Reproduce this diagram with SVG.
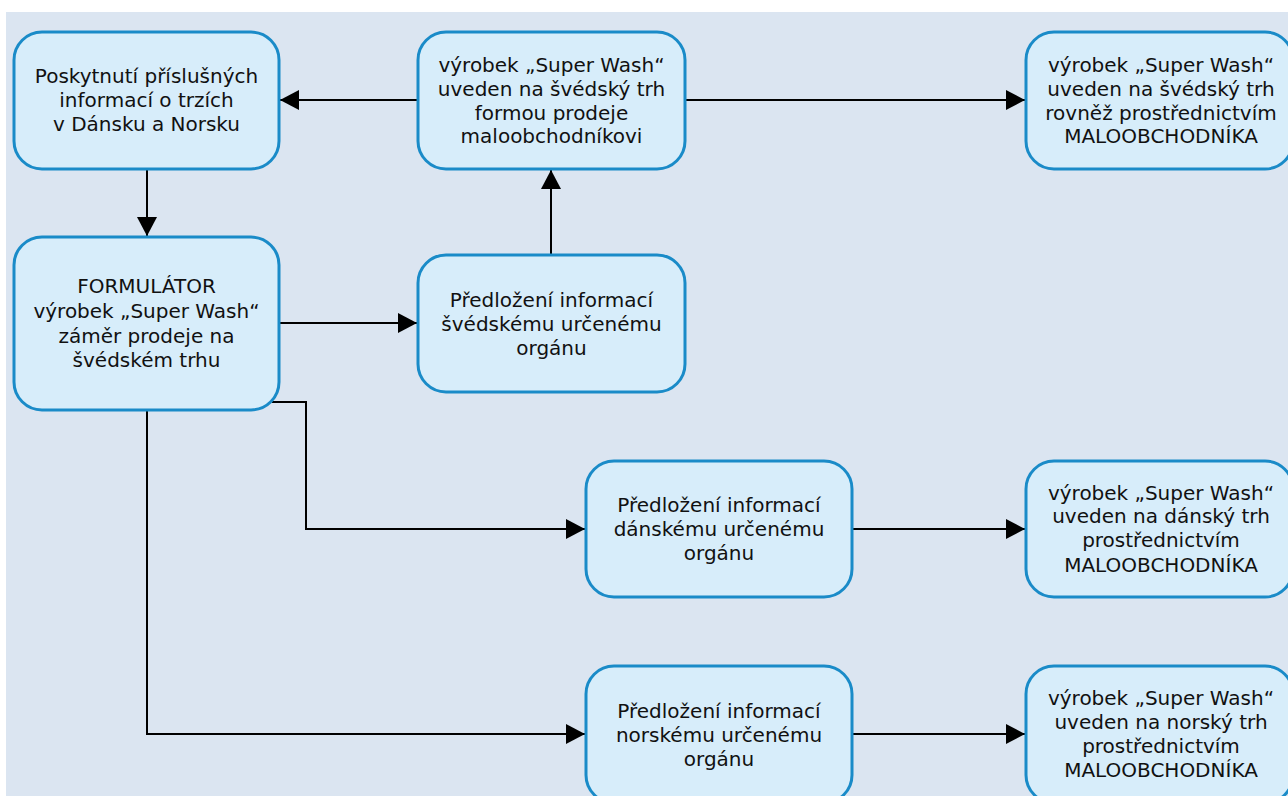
<svg xmlns="http://www.w3.org/2000/svg" width="1288" height="796" viewBox="0 0 1288 796">
  <style>
    .box { fill: #d7edfa; stroke: #1a8bc8; stroke-width: 3; }
    .lbl { font-family: "DejaVu Sans", Verdana, sans-serif; font-size: 20px; fill: #111; text-anchor: middle; }
    .wire { fill: none; stroke: #000; stroke-width: 2; }
  </style>
  <defs>
    <marker id="arrow" markerUnits="userSpaceOnUse" markerWidth="20" markerHeight="20" refX="19" refY="10" orient="auto">
      <path d="M0,0 L19,10 L0,20 Z" fill="#000"/>
    </marker>
  </defs>

  <!-- canvas -->
  <rect x="6" y="12" width="1282" height="784" fill="#dbe5f1"/>

  <!-- connectors -->
  <g id="connectors">
    <path class="wire" d="M418,100 H280" marker-end="url(#arrow)"/>
    <path class="wire" d="M685,100 H1025" marker-end="url(#arrow)"/>
    <path class="wire" d="M147,169 V236" marker-end="url(#arrow)"/>
    <path class="wire" d="M551,255 V170" marker-end="url(#arrow)"/>
    <path class="wire" d="M279,323 H417" marker-end="url(#arrow)"/>
    <path class="wire" d="M272,402 H306 V529 H585" marker-end="url(#arrow)"/>
    <path class="wire" d="M147,410 V734 H585" marker-end="url(#arrow)"/>
    <path class="wire" d="M852,529 H1025" marker-end="url(#arrow)"/>
    <path class="wire" d="M852,734 H1025" marker-end="url(#arrow)"/>
  </g>

  <g id="info-dk-no">
    <rect class="box" x="14" y="32" width="265" height="137" rx="28"/>
    <text class="lbl"><tspan x="146.5" y="83">Poskytnutí příslušných</tspan><tspan x="146.5" y="107">informací o trzích</tspan><tspan x="146.5" y="131">v Dánsku a Norsku</tspan></text>
  </g>

  <g id="se-retail">
    <rect class="box" x="418" y="32" width="267" height="137" rx="28"/>
    <text class="lbl"><tspan x="551.5" y="72">výrobek „Super Wash“</tspan><tspan x="551.5" y="96">uveden na švédský trh</tspan><tspan x="551.5" y="120">formou prodeje</tspan><tspan x="551.5" y="143">maloobchodníkovi</tspan></text>
  </g>

  <g id="se-market">
    <rect class="box" x="1026" y="32" width="267" height="137" rx="28"/>
    <text class="lbl"><tspan x="1161" y="72">výrobek „Super Wash“</tspan><tspan x="1161" y="96">uveden na švédský trh</tspan><tspan x="1161" y="120">rovněž prostřednictvím</tspan><tspan x="1161" y="143">MALOOBCHODNÍKA</tspan></text>
  </g>

  <g id="formulator">
    <rect class="box" x="14" y="237" width="265" height="173" rx="28"/>
    <text class="lbl"><tspan x="146.5" y="293">FORMULÁTOR</tspan><tspan x="146.5" y="318">výrobek „Super Wash“</tspan><tspan x="146.5" y="343">záměr prodeje na</tspan><tspan x="146.5" y="367">švédském trhu</tspan></text>
  </g>

  <g id="se-authority">
    <rect class="box" x="418" y="255" width="267" height="137" rx="28"/>
    <text class="lbl"><tspan x="551.5" y="307">Předložení informací</tspan><tspan x="551.5" y="331">švédskému určenému</tspan><tspan x="551.5" y="355">orgánu</tspan></text>
  </g>

  <g id="dk-authority">
    <rect class="box" x="586" y="461" width="266" height="136" rx="28"/>
    <text class="lbl"><tspan x="719" y="512">Předložení informací</tspan><tspan x="719" y="536">dánskému určenému</tspan><tspan x="719" y="560">orgánu</tspan></text>
  </g>

  <g id="dk-market">
    <rect class="box" x="1026" y="461" width="267" height="136" rx="28"/>
    <text class="lbl"><tspan x="1161" y="500">výrobek „Super Wash“</tspan><tspan x="1161" y="523">uveden na dánský trh</tspan><tspan x="1161" y="547">prostřednictvím</tspan><tspan x="1161" y="572">MALOOBCHODNÍKA</tspan></text>
  </g>

  <g id="no-authority">
    <rect class="box" x="586" y="666" width="266" height="137" rx="28"/>
    <text class="lbl"><tspan x="719" y="718">Předložení informací</tspan><tspan x="719" y="742">norskému určenému</tspan><tspan x="719" y="766">orgánu</tspan></text>
  </g>

  <g id="no-market">
    <rect class="box" x="1026" y="666" width="267" height="137" rx="28"/>
    <text class="lbl"><tspan x="1161" y="705">výrobek „Super Wash“</tspan><tspan x="1161" y="729">uveden na norský trh</tspan><tspan x="1161" y="753">prostřednictvím</tspan><tspan x="1161" y="777">MALOOBCHODNÍKA</tspan></text>
  </g>
</svg>
